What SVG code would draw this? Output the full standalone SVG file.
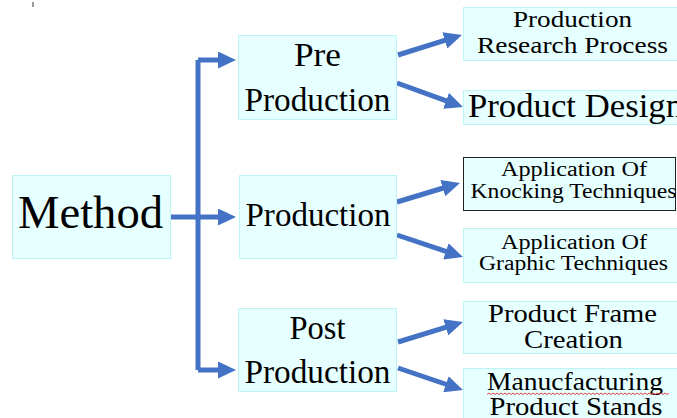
<svg xmlns="http://www.w3.org/2000/svg" width="677" height="418" viewBox="0 0 677 418">
<defs>
<marker id="ah" markerUnits="userSpaceOnUse" markerWidth="18" markerHeight="17" viewBox="0 0 18 17" refX="4" refY="8.5" orient="auto">
<path d="M0,0 L18,8.5 L0,17 z" fill="#4472C4"/>
</marker>
<style>
.box{fill:#E6FFFF;stroke:#BDF5F7;stroke-width:1}
.boxk{fill:#E6FFFF;stroke:#222;stroke-width:1}
.t{fill:#000;text-anchor:middle;font-family:'Liberation Serif','Tinos','Times New Roman','DejaVu Serif',serif}
.c{fill:none;stroke:#4472C4;stroke-width:5}
.ca{fill:none;stroke:#4472C4;stroke-width:5;marker-end:url(#ah)}
</style>
</defs>
<rect width="677" height="418" fill="#fff"/>
<line x1="33" y1="2" x2="33" y2="7" stroke="#777" stroke-width="1.5"/>

<g id="connectors">
<path class="c" d="M198,60 V370"/>
<path class="ca" d="M198,60 H222"/>
<path class="ca" d="M198,370 H222"/>
<path class="ca" d="M171,217 H222"/>
<path class="ca" d="M398,55 L448.6,39.2"/>
<path class="ca" d="M397,83 L449.8,102.2"/>
<path class="ca" d="M397,202 L446.6,187"/>
<path class="ca" d="M397,235 L449.7,252.6"/>
<path class="ca" d="M398,342 L449.6,326.1"/>
<path class="ca" d="M398,368 L449.7,385.5"/>
</g>

<g id="method">
<rect class="box" x="12.5" y="175.5" width="158" height="83"/>
<text class="t" x="90.5" y="228" font-size="46" textLength="145" lengthAdjust="spacingAndGlyphs">Method</text>
</g>

<g id="pre-production">
<rect class="box" x="238.5" y="35.5" width="158" height="84"/>
<text class="t" x="317.5" y="66" font-size="33" textLength="47" lengthAdjust="spacingAndGlyphs">Pre</text>
<text class="t" x="317.5" y="111" font-size="33" textLength="146" lengthAdjust="spacingAndGlyphs">Production</text>
</g>

<g id="production">
<rect class="box" x="239.5" y="175.5" width="157" height="83"/>
<text class="t" x="318" y="226" font-size="33" textLength="145" lengthAdjust="spacingAndGlyphs">Production</text>
</g>

<g id="post-production">
<rect class="box" x="238.5" y="308.5" width="158" height="83"/>
<text class="t" x="317.5" y="339" font-size="33" textLength="56" lengthAdjust="spacingAndGlyphs">Post</text>
<text class="t" x="317.5" y="383" font-size="33" textLength="146" lengthAdjust="spacingAndGlyphs">Production</text>
</g>

<g id="research">
<rect class="box" x="463.5" y="7.5" width="220" height="53"/>
<text class="t" x="572.5" y="27" font-size="24" textLength="119" lengthAdjust="spacingAndGlyphs">Production</text>
<text class="t" x="572.5" y="53" font-size="24" textLength="191" lengthAdjust="spacingAndGlyphs">Research Process</text>
</g>

<g id="design">
<rect class="box" x="463.5" y="90.5" width="220" height="34"/>
<text class="t" x="468" y="117" font-size="34" style="text-anchor:start" textLength="215" lengthAdjust="spacingAndGlyphs">Product Design</text>
</g>

<g id="knocking">
<rect class="boxk" x="463.5" y="157.5" width="212" height="53"/>
<text class="t" x="574" y="176" font-size="20" textLength="146" lengthAdjust="spacingAndGlyphs">Application Of</text>
<text class="t" x="573.5" y="198" font-size="20" textLength="206" lengthAdjust="spacingAndGlyphs">Knocking Techniques</text>
</g>

<g id="graphic">
<rect class="box" x="463.5" y="228.5" width="220" height="54"/>
<text class="t" x="574" y="249" font-size="20" textLength="146" lengthAdjust="spacingAndGlyphs">Application Of</text>
<text class="t" x="573.5" y="270" font-size="20" textLength="189" lengthAdjust="spacingAndGlyphs">Graphic Techniques</text>
</g>

<g id="frame">
<rect class="box" x="463.5" y="301.5" width="220" height="52"/>
<text class="t" x="572.5" y="322" font-size="25" textLength="169" lengthAdjust="spacingAndGlyphs">Product Frame</text>
<text class="t" x="573.5" y="348" font-size="25" textLength="99" lengthAdjust="spacingAndGlyphs">Creation</text>
</g>

<g id="stands">
<rect class="box" x="463.5" y="368.5" width="220" height="60"/>
<text class="t" x="575" y="390" font-size="25" textLength="176" lengthAdjust="spacingAndGlyphs">Manucfacturing</text>
<text class="t" x="576" y="415" font-size="25" textLength="173" lengthAdjust="spacingAndGlyphs">Product Stands</text>
<path d="M487,394.5 l2,-1.5 l2,1.5 l2,-1.5 l2,1.5 l2,-1.5 l2,1.5 l2,-1.5 l2,1.5 l2,-1.5 l2,1.5 l2,-1.5 l2,1.5 l2,-1.5 l2,1.5 l2,-1.5 l2,1.5 l2,-1.5 l2,1.5 l2,-1.5 l2,1.5 l2,-1.5 l2,1.5 l2,-1.5 l2,1.5 l2,-1.5 l2,1.5 l2,-1.5 l2,1.5 l2,-1.5 l2,1.5 l2,-1.5 l2,1.5 l2,-1.5 l2,1.5 l2,-1.5 l2,1.5 l2,-1.5 l2,1.5 l2,-1.5 l2,1.5 l2,-1.5 l2,1.5 l2,-1.5 l2,1.5 l2,-1.5 l2,1.5 l2,-1.5 l2,1.5 l2,-1.5 l2,1.5 l2,-1.5 l2,1.5 l2,-1.5 l2,1.5 l2,-1.5 l2,1.5 l2,-1.5 l2,1.5 l2,-1.5 l2,1.5 l2,-1.5 l2,1.5 l2,-1.5 l2,1.5 l2,-1.5 l2,1.5 l2,-1.5 l2,1.5 l2,-1.5 l2,1.5 l2,-1.5 l2,1.5 l2,-1.5 l2,1.5 l2,-1.5 l2,1.5 l2,-1.5 l2,1.5 l2,-1.5 l2,1.5 l2,-1.5 l2,1.5 l2,-1.5 l2,1.5 l2,-1.5 l2,1.5 l2,-1.5 l2,1.5 l2,-1.5 l2,1.5 l2,-1.5" fill="none" stroke="#E03030" stroke-width="0.9"/>
</g>
</svg>
